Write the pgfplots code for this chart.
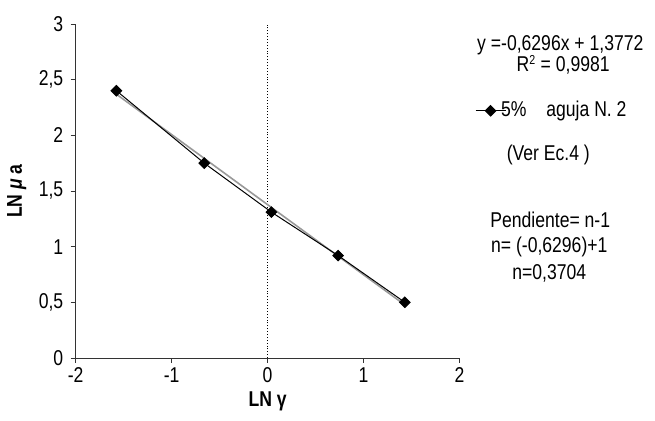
\documentclass[border=0pt]{standalone}
\usepackage{fontspec}
\setmainfont[FakeStretch=0.82]{Liberation Sans}
\usepackage{pgfplots}
\pgfplotsset{compat=1.18}

\newcommand{\chartfont}{\fontsize{21.5}{24}\selectfont}

\begin{document}
\chartfont
\begin{tikzpicture}[font=\chartfont]
\begin{axis}[
  scale only axis, width=385pt, height=335pt,
  xmin=-2, xmax=2, ymin=0, ymax=3,
  axis lines=left, axis line style={-, black!80, line width=0.8pt},
  xtick={-2,-1,0,1,2}, ytick={0,0.5,...,3},
  tick align=outside, major tick length=5pt,
  tick style={black!80, line width=0.8pt},
  /pgf/number format/use comma,
  /pgf/number format/assume math mode=true,
  xticklabel style={font=\chartfont, yshift=3pt}, yticklabel style={font=\chartfont},
  xlabel={\textbf{LN γ}}, ylabel={\textbf{LN \textit{μ} a}},
  label style={font=\chartfont},
  xlabel style={yshift=5pt}, ylabel style={yshift=-2pt},
  clip=false,
  legend style={draw=none, fill=none, at={(rel axis cs:1.04,0.74)}, anchor=west,
    font=\chartfont, inner sep=0pt},
  legend image code/.code={\draw[#1, mark repeat=2, mark phase=2] plot coordinates {(0pt,0pt) (15pt,0pt) (30pt,0pt)};},
]
% dotted line at x = 0
\addplot[black, dotted, line width=0.9pt, forget plot] coordinates {(0,0) (0,3)};
% linear trend line (grey)
\addplot[black!40, line width=1.6pt, forget plot] coordinates {(-1.58,2.372) (1.43,0.477)};
% data
\addplot[black, line width=1pt, mark=square*, mark size=3.7pt, mark options={rotate=45, solid}]
  coordinates {(-1.575,2.40) (-0.66,1.75) (0.04,1.31) (0.735,0.92) (1.43,0.50)};
\addlegendentry{\hspace{-7pt}5\%\hspace{20pt}aguja N. 2}

\node[font=\chartfont] at (axis cs:3.05,2.806) {y =-0,6296x + 1,3772};
\node[font=\chartfont] at (axis cs:3.08,2.633) {R\textsuperscript{\fontsize{13}{13}\selectfont 2} = 0,9981};
\node[font=\chartfont] at (axis cs:2.925,1.827) {(Ver Ec.4 )};
\node[font=\chartfont] at (axis cs:2.945,1.245) {Pendiente= n-1};
\node[font=\chartfont] at (axis cs:2.935,0.994) {n= (-0,6296)+1};
\node[font=\chartfont] at (axis cs:2.935,0.761) {n=0,3704};
\end{axis}
\path (-74pt,-63pt) rectangle (581pt,359pt);
\end{tikzpicture}
\end{document}
